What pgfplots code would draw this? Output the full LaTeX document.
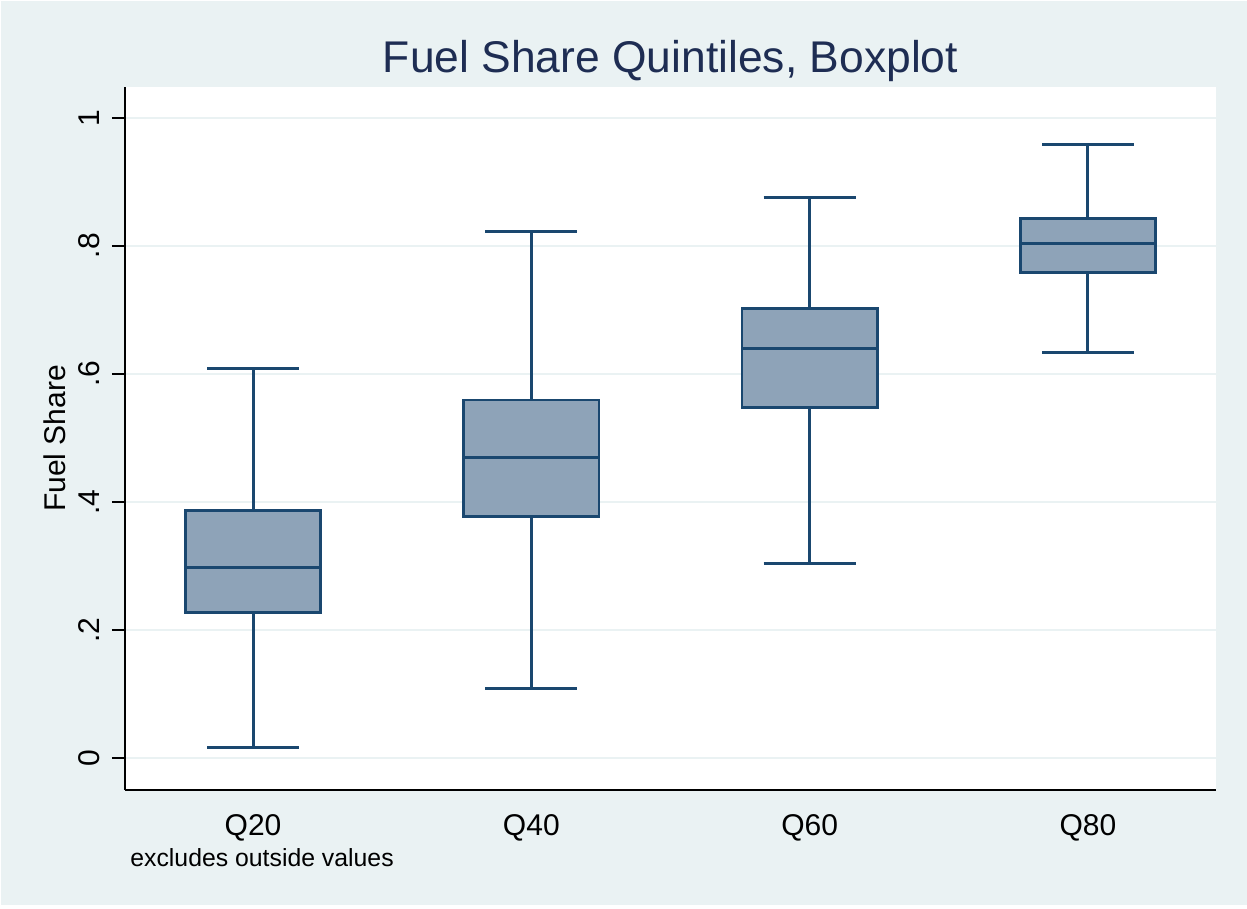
\documentclass[border=0pt]{standalone}
\usepackage{fontspec}
\setmainfont{Liberation Sans}
\usepackage{pgfplots}
\pgfplotsset{compat=1.18}
\usepgfplotslibrary{statistics}
\definecolor{bgc}{RGB}{234,242,243}
\definecolor{navy}{RGB}{26,71,111}
\definecolor{boxfill}{RGB}{142,163,184}
\definecolor{titlec}{RGB}{30,45,83}
\begin{document}
\begin{tikzpicture}
\fill[white] (0pt,0pt) rectangle (623.5pt,454.5pt);
\fill[bgc] (0.5pt,2pt) rectangle (623.5pt,454pt);
\begin{axis}[
  at={(62.5pt,59.5pt)}, anchor=south west,
  width=545.5pt, height=351.5pt, scale only axis,
  xmin=0.54, xmax=4.46, ymin=-0.05, ymax=1.048,
  axis lines*=left,
  axis line style={black, line width=0.9pt},
  axis background/.style={fill=white},
  xtick={1,2,3,4}, xticklabels={Q20,Q40,Q60,Q80},
  major x tick style={draw=none},
  ytick={0,0.2,0.4,0.6,0.8,1}, yticklabels={0,.2,.4,.6,.8,1},
  major y tick style={black, line width=0.8pt},
  major tick length=6.5pt, tick align=outside,
  ymajorgrids, major grid style={bgc, line width=1pt},
  yticklabel style={xshift=-2.5pt, rotate=90, anchor=south, font=\fontsize{15}{15}\selectfont},
  xticklabel style={font=\fontsize{15}{15}\selectfont, yshift=-2pt},
  ylabel={Fuel Share},
  ylabel style={at={(axis description cs:-0.064,0.5)}, anchor=center, font=\fontsize{15}{15}\selectfont},
  boxplot/draw direction=y,
  boxplot/every box/.style={draw=navy, fill=boxfill, line width=1.4pt},
  boxplot/every whisker/.style={draw=navy, line width=1.5pt},
  boxplot/every median/.style={draw=navy, line width=1.4pt},
]
\addplot[boxplot prepared={draw position=1, lower whisker=0.016, lower quartile=0.227, median=0.297, upper quartile=0.386, upper whisker=0.608, box extend=0.486, whisker extend=0.33}, draw=navy, fill=boxfill, line width=1.3pt] coordinates {};
\addplot[boxplot prepared={draw position=2, lower whisker=0.109, lower quartile=0.377, median=0.469, upper quartile=0.559, upper whisker=0.822, box extend=0.486, whisker extend=0.33}, draw=navy, fill=boxfill, line width=1.3pt] coordinates {};
\addplot[boxplot prepared={draw position=3, lower whisker=0.303, lower quartile=0.547, median=0.639, upper quartile=0.702, upper whisker=0.875, box extend=0.486, whisker extend=0.33}, draw=navy, fill=boxfill, line width=1.3pt] coordinates {};
\addplot[boxplot prepared={draw position=4, lower whisker=0.633, lower quartile=0.758, median=0.803, upper quartile=0.842, upper whisker=0.958, box extend=0.486, whisker extend=0.33}, draw=navy, fill=boxfill, line width=1.3pt] coordinates {};
\end{axis}
\node[font=\fontsize{22.2}{22.2}\selectfont, text=titlec] at (335.25pt,424pt) {Fuel Share Quintiles, Boxplot};
\node[font=\fontsize{12.4}{12.4}\selectfont, anchor=west, inner sep=0pt] at (65pt,25.5pt) {excludes outside values};
\end{tikzpicture}
\end{document}
